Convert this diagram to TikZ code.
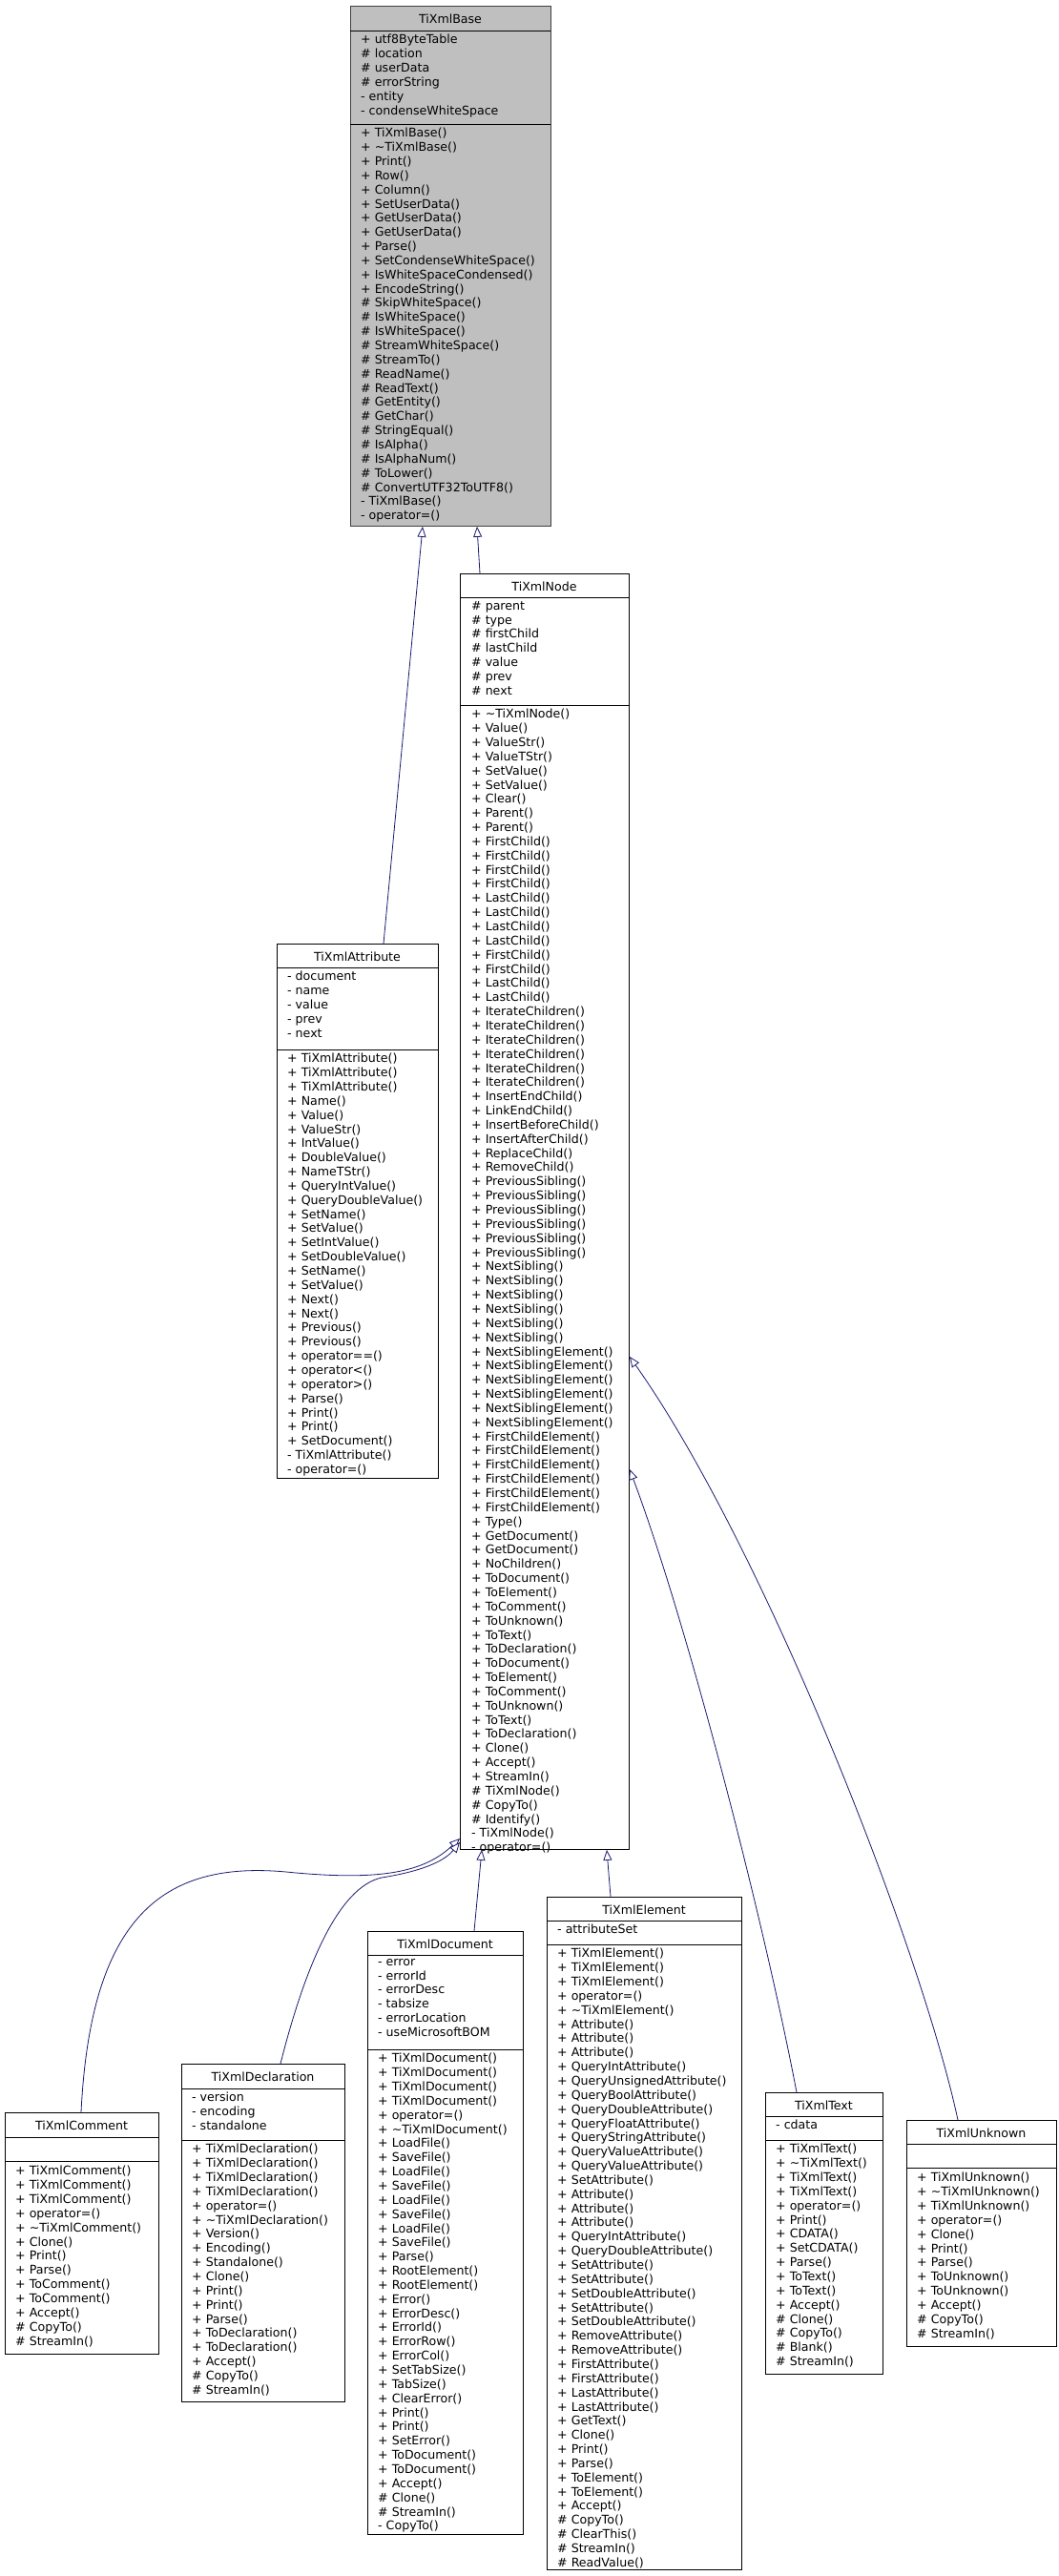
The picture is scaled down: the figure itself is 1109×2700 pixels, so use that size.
\documentclass[tikz,border=0pt]{standalone}
\usepackage{fontspec}
\setmainfont{DejaVu Sans}
\usetikzlibrary{arrows.meta}
\definecolor{edgec}{HTML}{191970}
\tikzset{
  box/.style={draw=black, line width=0.9pt, inner sep=0pt, anchor=north west},
  txt/.style={inner sep=0pt, anchor=north west, align=left, font=\fontsize{12.6}{14.85}\selectfont},
  ttl/.style={inner sep=0pt, font=\fontsize{12.6}{14.85}\selectfont},
  edge/.style={draw=edgec, line width=0.8pt, -{Triangle[fill=white, length=11pt, width=9pt, line width=0.8pt]}}
}
% name, x1, y1, x2, y2, sep1, sep2, title
\newcommand{\clsbox}[9][]{%
  \node[box, #1, minimum width={#4pt-#2pt}, minimum height={#5pt-#3pt}] (#9) at (#2,#3) {};
  \draw[line width=0.9pt] (#2,#6) -- (#4,#6);
  \draw[line width=0.9pt] (#2,#7) -- (#4,#7);
  \node[ttl] (#9-t) at ({(#2+#4)/2},{(#3+#6)/2+1}) {#8};
}
\begin{document}
\begin{tikzpicture}[x=1pt,y=-1pt]
\useasboundingbox (0,0) rectangle (1109,2700);
% TiXmlBase
\clsbox[fill={rgb,255:red,191;green,191;blue,191}, draw={rgb,255:red,64;green,64;blue,64}]{367}{6}{577}{551}{32}{130}{TiXmlBase}{base}
\node[txt] (base-a) at (378,36) {+ utf8ByteTable\\\# location\\\# userData\\\# errorString\\- entity\\- condenseWhiteSpace};
\node[txt] (base-m) at (378,134) {+ TiXmlBase()\\+ \textasciitilde TiXmlBase()\\+ Print()\\+ Row()\\+ Column()\\+ SetUserData()\\+ GetUserData()\\+ GetUserData()\\+ Parse()\\+ SetCondenseWhiteSpace()\\+ IsWhiteSpaceCondensed()\\+ EncodeString()\\\# SkipWhiteSpace()\\\# IsWhiteSpace()\\\# IsWhiteSpace()\\\# StreamWhiteSpace()\\\# StreamTo()\\\# ReadName()\\\# ReadText()\\\# GetEntity()\\\# GetChar()\\\# StringEqual()\\\# IsAlpha()\\\# IsAlphaNum()\\\# ToLower()\\\# ConvertUTF32ToUTF8()\\- TiXmlBase()\\- operator=()};
% TiXmlNode
\clsbox{482}{601}{659}{1938}{626}{739}{TiXmlNode}{node}
\node[txt] (node-a) at (494,630) {\# parent\\\# type\\\# firstChild\\\# lastChild\\\# value\\\# prev\\\# next};
\node[txt] (node-m) at (494,743) {+ \textasciitilde TiXmlNode()\\+ Value()\\+ ValueStr()\\+ ValueTStr()\\+ SetValue()\\+ SetValue()\\+ Clear()\\+ Parent()\\+ Parent()\\+ FirstChild()\\+ FirstChild()\\+ FirstChild()\\+ FirstChild()\\+ LastChild()\\+ LastChild()\\+ LastChild()\\+ LastChild()\\+ FirstChild()\\+ FirstChild()\\+ LastChild()\\+ LastChild()\\+ IterateChildren()\\+ IterateChildren()\\+ IterateChildren()\\+ IterateChildren()\\+ IterateChildren()\\+ IterateChildren()\\+ InsertEndChild()\\+ LinkEndChild()\\+ InsertBeforeChild()\\+ InsertAfterChild()\\+ ReplaceChild()\\+ RemoveChild()\\+ PreviousSibling()\\+ PreviousSibling()\\+ PreviousSibling()\\+ PreviousSibling()\\+ PreviousSibling()\\+ PreviousSibling()\\+ NextSibling()\\+ NextSibling()\\+ NextSibling()\\+ NextSibling()\\+ NextSibling()\\+ NextSibling()\\+ NextSiblingElement()\\+ NextSiblingElement()\\+ NextSiblingElement()\\+ NextSiblingElement()\\+ NextSiblingElement()\\+ NextSiblingElement()\\+ FirstChildElement()\\+ FirstChildElement()\\+ FirstChildElement()\\+ FirstChildElement()\\+ FirstChildElement()\\+ FirstChildElement()\\+ Type()\\+ GetDocument()\\+ GetDocument()\\+ NoChildren()\\+ ToDocument()\\+ ToElement()\\+ ToComment()\\+ ToUnknown()\\+ ToText()\\+ ToDeclaration()\\+ ToDocument()\\+ ToElement()\\+ ToComment()\\+ ToUnknown()\\+ ToText()\\+ ToDeclaration()\\+ Clone()\\+ Accept()\\+ StreamIn()\\\# TiXmlNode()\\\# CopyTo()\\\# Identify()\\- TiXmlNode()\\- operator=()};
% TiXmlAttribute
\clsbox{290}{989}{459}{1549}{1014}{1100}{TiXmlAttribute}{attr}
\node[txt] (attr-a) at (301,1018) {- document\\- name\\- value\\- prev\\- next};
\node[txt] (attr-m) at (301,1104) {+ TiXmlAttribute()\\+ TiXmlAttribute()\\+ TiXmlAttribute()\\+ Name()\\+ Value()\\+ ValueStr()\\+ IntValue()\\+ DoubleValue()\\+ NameTStr()\\+ QueryIntValue()\\+ QueryDoubleValue()\\+ SetName()\\+ SetValue()\\+ SetIntValue()\\+ SetDoubleValue()\\+ SetName()\\+ SetValue()\\+ Next()\\+ Next()\\+ Previous()\\+ Previous()\\+ operator==()\\+ operator<()\\+ operator>()\\+ Parse()\\+ Print()\\+ Print()\\+ SetDocument()\\- TiXmlAttribute()\\- operator=()};
% TiXmlComment
\clsbox{5}{2214}{166}{2467}{2240}{2265}{TiXmlComment}{comment}
\node[txt] (comment-m) at (16,2270) {+ TiXmlComment()\\+ TiXmlComment()\\+ TiXmlComment()\\+ operator=()\\+ \textasciitilde TiXmlComment()\\+ Clone()\\+ Print()\\+ Parse()\\+ ToComment()\\+ ToComment()\\+ Accept()\\\# CopyTo()\\\# StreamIn()};
% TiXmlDeclaration
\clsbox{190}{2163}{361}{2517}{2189}{2243}{TiXmlDeclaration}{decl}
\node[txt] (decl-a) at (201,2193) {- version\\- encoding\\- standalone};
\node[txt] (decl-m) at (201,2247) {+ TiXmlDeclaration()\\+ TiXmlDeclaration()\\+ TiXmlDeclaration()\\+ TiXmlDeclaration()\\+ operator=()\\+ \textasciitilde TiXmlDeclaration()\\+ Version()\\+ Encoding()\\+ Standalone()\\+ Clone()\\+ Print()\\+ Print()\\+ Parse()\\+ ToDeclaration()\\+ ToDeclaration()\\+ Accept()\\\# CopyTo()\\\# StreamIn()};
% TiXmlDocument
\clsbox{385}{2024}{548}{2656}{2049}{2148}{TiXmlDocument}{doc}
\node[txt] (doc-a) at (396,2053) {- error\\- errorId\\- errorDesc\\- tabsize\\- errorLocation\\- useMicrosoftBOM};
\node[txt] (doc-m) at (396,2152) {+ TiXmlDocument()\\+ TiXmlDocument()\\+ TiXmlDocument()\\+ TiXmlDocument()\\+ operator=()\\+ \textasciitilde TiXmlDocument()\\+ LoadFile()\\+ SaveFile()\\+ LoadFile()\\+ SaveFile()\\+ LoadFile()\\+ SaveFile()\\+ LoadFile()\\+ SaveFile()\\+ Parse()\\+ RootElement()\\+ RootElement()\\+ Error()\\+ ErrorDesc()\\+ ErrorId()\\+ ErrorRow()\\+ ErrorCol()\\+ SetTabSize()\\+ TabSize()\\+ ClearError()\\+ Print()\\+ Print()\\+ SetError()\\+ ToDocument()\\+ ToDocument()\\+ Accept()\\\# Clone()\\\# StreamIn()\\- CopyTo()};
% TiXmlElement
\clsbox{573}{1988}{777}{2693}{2013}{2038}{TiXmlElement}{elem}
\node[txt] (elem-a) at (584,2017) {- attributeSet};
\node[txt] (elem-m) at (584,2042) {+ TiXmlElement()\\+ TiXmlElement()\\+ TiXmlElement()\\+ operator=()\\+ \textasciitilde TiXmlElement()\\+ Attribute()\\+ Attribute()\\+ Attribute()\\+ QueryIntAttribute()\\+ QueryUnsignedAttribute()\\+ QueryBoolAttribute()\\+ QueryDoubleAttribute()\\+ QueryFloatAttribute()\\+ QueryStringAttribute()\\+ QueryValueAttribute()\\+ QueryValueAttribute()\\+ SetAttribute()\\+ Attribute()\\+ Attribute()\\+ Attribute()\\+ QueryIntAttribute()\\+ QueryDoubleAttribute()\\+ SetAttribute()\\+ SetAttribute()\\+ SetDoubleAttribute()\\+ SetAttribute()\\+ SetDoubleAttribute()\\+ RemoveAttribute()\\+ RemoveAttribute()\\+ FirstAttribute()\\+ FirstAttribute()\\+ LastAttribute()\\+ LastAttribute()\\+ GetText()\\+ Clone()\\+ Print()\\+ Parse()\\+ ToElement()\\+ ToElement()\\+ Accept()\\\# CopyTo()\\\# ClearThis()\\\# StreamIn()\\\# ReadValue()};
% TiXmlText
\clsbox{802}{2193}{925}{2488}{2218}{2243}{TiXmlText}{text}
\node[txt] (text-a) at (813,2222) {- cdata};
\node[txt] (text-m) at (813,2247) {+ TiXmlText()\\+ \textasciitilde TiXmlText()\\+ TiXmlText()\\+ TiXmlText()\\+ operator=()\\+ Print()\\+ CDATA()\\+ SetCDATA()\\+ Parse()\\+ ToText()\\+ ToText()\\+ Accept()\\\# Clone()\\\# CopyTo()\\\# Blank()\\\# StreamIn()};
% TiXmlUnknown
\clsbox{950}{2222}{1107}{2459}{2247}{2272}{TiXmlUnknown}{unk}
\node[txt] (unk-m) at (961,2277) {+ TiXmlUnknown()\\+ \textasciitilde TiXmlUnknown()\\+ TiXmlUnknown()\\+ operator=()\\+ Clone()\\+ Print()\\+ Parse()\\+ ToUnknown()\\+ ToUnknown()\\+ Accept()\\\# CopyTo()\\\# StreamIn()};
% edges
\draw[edge] ([xshift=112pt]attr.north west) -- ([xshift=76pt]base.south west);
\draw[edge] ([xshift=21pt]node.north west) -- ([xshift=133pt]base.south west);
\draw[edge] ([xshift=80pt]comment.north west) .. controls (95,2010) and (170,1950) .. (300,1962) .. controls (400,1972) and (445,1962) .. ([yshift=12pt]node.south west);
\draw[edge] ([xshift=104pt]decl.north west) .. controls (320,2060) and (355,1978) .. (400,1968) .. controls (450,1960) and (468,1948) .. ([yshift=8pt]node.south west);
\draw[edge] ([xshift=112pt]doc.north west) -- ([xshift=23pt]node.south west);
\draw[edge] ([xshift=67pt]elem.north west) -- ([xshift=154pt]node.south west);
\draw[edge] ([xshift=33pt]text.north west) .. controls (800,2010) and (720,1700) .. ([yshift=399pt]node.south east);
\draw[edge] ([xshift=54pt]unk.north west) .. controls (965,2040) and (800,1620) .. ([yshift=517pt]node.south east);
\end{tikzpicture}
\end{document}
